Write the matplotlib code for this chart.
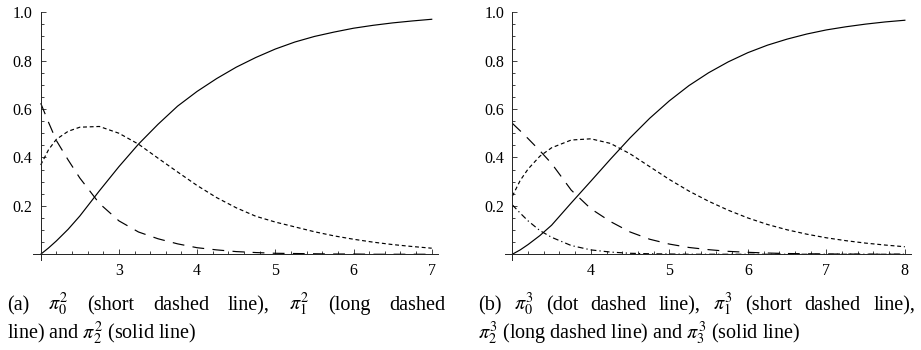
import matplotlib
matplotlib.use("Agg")
import matplotlib.pyplot as plt
from matplotlib.ticker import FixedLocator
import numpy as np

# ---------------- data ----------------
x_a = [2.0, 2.1, 2.2, 2.35, 2.5, 2.75, 3.0, 3.25, 3.5, 3.75, 4.0, 4.25, 4.5,
       4.75, 5.0, 5.25, 5.5, 5.75, 6.0, 6.25, 6.5, 6.75, 7.0]
pi0_a = [0.369, 0.432, 0.475, 0.508, 0.525, 0.528, 0.500, 0.455, 0.397, 0.340,
         0.284, 0.234, 0.192, 0.157, 0.133, 0.113, 0.093, 0.076, 0.062, 0.050,
         0.040, 0.032, 0.025]
pi1_a = [0.624, 0.545, 0.470, 0.390, 0.315, 0.210, 0.138, 0.092, 0.064, 0.043,
         0.027, 0.018, 0.011, 0.007, 0.004, 0.003, 0.002, 0.001, 0.001, 0.0,
         0.0, 0.0, 0.0]
pi2_a = [0.0, 0.026, 0.055, 0.103, 0.158, 0.262, 0.362, 0.455, 0.537, 0.612,
         0.673, 0.726, 0.773, 0.813, 0.848, 0.877, 0.900, 0.918, 0.934, 0.946,
         0.956, 0.964, 0.971]

x_b = [3.0, 3.1, 3.2, 3.35, 3.5, 3.75, 4.0, 4.25, 4.5, 4.75, 5.0, 5.25, 5.5,
       5.75, 6.0, 6.25, 6.5, 6.75, 7.0, 7.25, 7.5, 7.75, 8.0]
pi0_b = [0.204, 0.170, 0.138, 0.098, 0.070, 0.036, 0.018, 0.009, 0.004, 0.002,
         0.001, 0.0, 0.0, 0.0, 0.0, 0.0, 0.0, 0.0, 0.0, 0.0, 0.0, 0.0, 0.0]
pi1_b = [0.240, 0.305, 0.352, 0.405, 0.440, 0.472, 0.477, 0.458, 0.415, 0.362,
         0.309, 0.261, 0.219, 0.182, 0.150, 0.123, 0.101, 0.083, 0.068, 0.056,
         0.046, 0.038, 0.031]
pi2_b = [0.541, 0.510, 0.478, 0.428, 0.375, 0.265, 0.188, 0.135, 0.092, 0.062,
         0.042, 0.028, 0.019, 0.012, 0.008, 0.005, 0.003, 0.002, 0.001, 0.001,
         0.0, 0.0, 0.0]
pi3_b = [0.0, 0.018, 0.040, 0.077, 0.120, 0.212, 0.302, 0.393, 0.481, 0.562,
         0.634, 0.697, 0.750, 0.795, 0.833, 0.864, 0.889, 0.910, 0.927, 0.940,
         0.951, 0.960, 0.967]

yticks = [0.2, 0.4, 0.6, 0.8, 1.0]
ytick_labels = ["0.2", "0.4", "0.6", "0.8", "1.0"]
xticks_a = [3, 4, 5, 6, 7]
xticks_b = [4, 5, 6, 7, 8]

caption_a1 = ["(a)", r"$\pi_0^2$", "(short", "dashed", "line),", r"$\pi_1^2$",
              "(long", "dashed"]
caption_a2 = r"line) and $\pi_2^2$ (solid line)"
caption_b1 = ["(b)", r"$\pi_0^3$", "(dot", "dashed", "line),", r"$\pi_1^3$",
              "(short", "dashed", "line),"]
caption_b2 = r"$\pi_2^3$ (long dashed line) and $\pi_3^3$ (solid line)"

# ---------------- style ----------------
plt.rcParams["lines.scale_dashes"] = False
plt.rcParams["mathtext.fontset"] = "stix"
serif = ["Liberation Serif", "DejaVu Serif"]

W, H = 921, 350
fig = plt.figure(figsize=(W / 100, H / 100), dpi=100)

SHORT = (0, (2.8, 2.0))
LONG = (0, (8.5, 6.0))
DOTDASH = (0, (4.2, 2.2, 0.9, 2.2))
LW = 0.85


def setup(ax, x0, x1, xticks):
    ax.set_xlim(x0 - 0.1, x1 + 0.08)
    ax.set_ylim(-0.025, 1.0)
    for s in ["top", "right"]:
        ax.spines[s].set_visible(False)
    ax.spines["left"].set_position(("data", x0))
    ax.spines["bottom"].set_position(("data", 0))
    for s in ["left", "bottom"]:
        ax.spines[s].set_linewidth(0.7)
        ax.spines[s].set_color("#222222")
    ax.yaxis.set_major_locator(FixedLocator(yticks))
    ax.set_yticklabels(ytick_labels)
    ax.yaxis.set_minor_locator(FixedLocator(np.arange(0.05, 1.0, 0.05)))
    ax.xaxis.set_major_locator(FixedLocator(xticks))
    ax.set_xticklabels([str(t) for t in xticks])
    ax.xaxis.set_minor_locator(FixedLocator(np.arange(x0 + 0.2, x1 + 0.01, 0.2)))
    ax.tick_params(which="both", direction="in", color="#222222", width=0.6)
    ax.tick_params(which="major", length=3.8, pad=6, labelsize=11.5)
    ax.tick_params(which="minor", length=2.4)
    for lab in ax.get_xticklabels() + ax.get_yticklabels():
        lab.set_family(serif)
    ax.patch.set_alpha(0)


def place(left_px, xr):
    width_px = xr * 78.2
    bottom_px = 260.3
    height_px = 1.025 * 242
    return [left_px / W, (H - bottom_px) / H, width_px / W, height_px / H]


axA = fig.add_axes(place(32.9, 5.18))
axA.plot(x_a, pi0_a, color="black", lw=LW, linestyle=SHORT)
axA.plot(x_a, pi1_a, color="black", lw=LW, linestyle=LONG)
axA.plot(x_a, pi2_a, color="black", lw=LW)
setup(axA, 2, 7, xticks_a)

axB = fig.add_axes(place(504.5, 5.2))
axB.plot(x_b, pi0_b, color="black", lw=LW, linestyle=DOTDASH)
axB.plot(x_b, pi1_b, color="black", lw=LW, linestyle=SHORT)
axB.plot(x_b, pi2_b, color="black", lw=LW, linestyle=LONG)
axB.plot(x_b, pi3_b, color="black", lw=LW)
setup(axB, 3, 8, xticks_b)

# ---------------- captions ----------------
CAP_FS = 14.5
renderer = fig.canvas.get_renderer()
BASE1, BASE2 = 310, 339


def justified(tokens, x0_px, x1_px, base_px):
    texts = [fig.text(0, 0, t, fontsize=CAP_FS, family=serif, va="baseline",
                      ha="left", transform=None) for t in tokens]
    widths = [t.get_window_extent(renderer).width for t in texts]
    gap = max(3.0, (x1_px - x0_px - sum(widths)) / (len(tokens) - 1))
    x = x0_px
    for t, w in zip(texts, widths):
        t.set_position((x, H - base_px))
        x += w + gap


justified(caption_a1, 7, 445, BASE1)
fig.text(7 / W, 1 - BASE2 / H, caption_a2, fontsize=CAP_FS, family=serif,
         va="baseline", ha="left")
justified(caption_b1, 478, 915, BASE1)
fig.text(478 / W, 1 - BASE2 / H, caption_b2, fontsize=CAP_FS, family=serif,
         va="baseline", ha="left")

fig.savefig("out.png", dpi=100)
